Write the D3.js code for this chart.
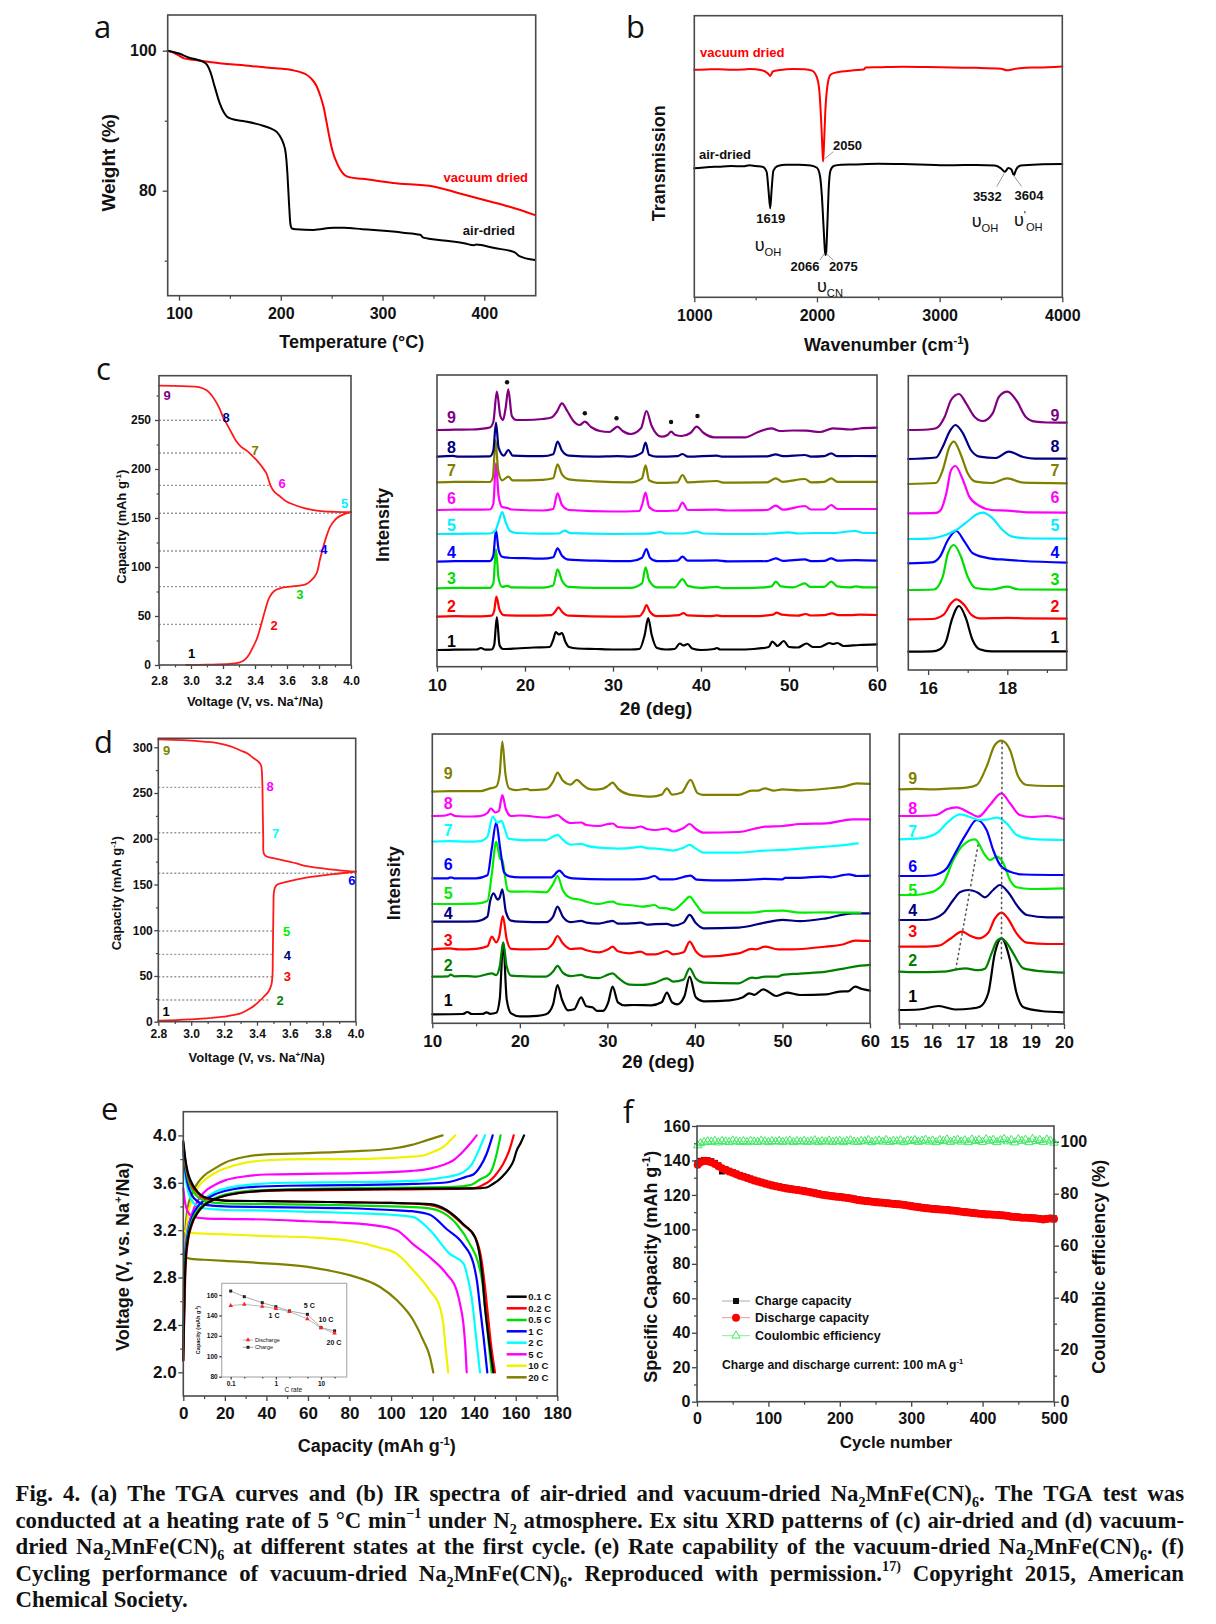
<!DOCTYPE html>
<html><head><meta charset="utf-8">
<script src="https://cdn.jsdelivr.net/npm/d3@7"></script>
<style>body{margin:0;background:#fff}</style>
</head><body>
<script>
// ================= DATA =================
// (a) TGA: [temperature °C, weight %]
const tgaVacuum = [[88.9,100],[95,99.7],[100,99.3],[105,98.9],[114,98.7],[130,98.4],[147,98.1],[165,97.9],[179,97.7],[195,97.5],[212,97.2],[220,96.9],[225,96.6],[230,96.0],[235,95.0],[239,93.5],[242,92.0],[245,89.8],[248,87.5],[251,85.6],[255,84.0],[258.5,83.0],[263,82.2],[268,81.9],[280,81.7],[310,81.1],[350,80.6],[376,79.6],[399,78.7],[425,77.7],[450,76.5]];
const tgaAir = [[88.9,100],[100,99.6],[110,99.0],[118,98.7],[124,98.4],[128,97.9],[131,96.9],[135,94.9],[140,92.5],[144,91.2],[147,90.6],[153,90.2],[165,89.9],[180,89.4],[190,88.9],[196,88.4],[200,87.6],[202.5,86.8],[205,85.2],[206.5,82.5],[208,78.5],[209.5,75.2],[211,74.6],[215,74.5],[232,74.4],[252,74.7],[262,74.7],[280,74.5],[298,74.3],[320,74.0],[337,73.7],[340,73.3],[360,72.9],[380,72.5],[390,72.2],[392,72.3],[410,71.8],[430,71.2],[434,70.7],[450,70.1]];

// (b) IR: [wavenumber cm-1, transmission a.u.]
const irVacuum = [[1000,80.8],[1100,80.9],[1200,81.0],[1300,80.8],[1400,80.9],[1450,81.1],[1550,80.6],[1600,79.5],[1619,78.6],[1640,80.2],[1700,80.7],[1800,81.1],[1900,81.0],[1960,80.5],[2000,78.0],[2020,73.0],[2035,62.0],[2045,52.0],[2050,48.2],[2058,55.0],[2068,66.0],[2085,75.0],[2110,79.0],[2150,79.8],[2200,80.2],[2300,80.6],[2380,80.9],[2400,81.6],[2500,81.7],[2700,81.9],[2900,81.8],[3100,81.6],[3300,81.5],[3500,81.2],[3550,80.6],[3600,81.0],[3650,81.3],[3700,81.5],[3800,81.6],[4000,82.0]];
const irAir = [[1000,45.8],[1100,46.2],[1200,46.4],[1300,46.6],[1400,46.5],[1450,46.9],[1500,46.6],[1560,46.3],[1590,44.5],[1605,38.0],[1619,31.6],[1630,38.0],[1645,45.0],[1680,46.6],[1750,47.1],[1850,47.1],[1950,46.8],[2000,46.0],[2025,43.0],[2040,36.0],[2055,24.0],[2066,16.0],[2070,15.0],[2075,16.0],[2085,26.0],[2095,38.0],[2110,45.0],[2140,46.7],[2200,47.1],[2300,47.2],[2500,47.4],[2700,47.3],[2900,47.1],[3100,46.9],[3300,47.0],[3450,46.8],[3500,45.8],[3532,44.6],[3560,45.9],[3585,45.4],[3604,43.4],[3625,45.5],[3660,46.8],[3800,47.2],[4000,47.3]];

// (c) air-dried first cycle: [voltage V, capacity mAh/g]
const cCharge = [[2.97,0],[3.1,0.3],[3.24,1],[3.3,2.5],[3.33,4.5],[3.36,10],[3.38,16],[3.41,26],[3.44,42],[3.465,57],[3.49,69],[3.52,75.5],[3.56,78.5],[3.62,80],[3.68,81],[3.72,82.5],[3.75,86],[3.785,93.5],[3.805,107],[3.827,120.7],[3.85,133],[3.869,141],[3.89,146],[3.91,149.7],[3.95,153.5],[4.0,156]];
const cDischarge = [[4.0,156],[3.9,156.3],[3.83,156.8],[3.75,158.5],[3.66,162.5],[3.6,166.5],[3.56,171.5],[3.52,177],[3.5,182],[3.485,189],[3.47,196],[3.44,203],[3.41,209],[3.38,214],[3.35,218.5],[3.31,223],[3.28,229],[3.26,235],[3.24,241],[3.22,247],[3.2,253],[3.18,261],[3.16,267.5],[3.13,275],[3.1,280],[3.05,283.5],[2.95,284.5],[2.8,285]];
const cStates = [[3.45,41.5],[3.66,80],[3.81,116.3],[4.0,154.8],[3.49,183.3],[3.33,216.3],[3.19,249.7]];
const stateNames = ['1','2','3','4','5','6','7','8','9'];

// (c) XRD traces, 2θ vs intensity above each pattern's own baseline; stacking offsets (a.u.)
const xrdCOffsets = [16.7,50,78.3,105,132.7,156.7,184.4,210,236.7];
const xrdC = [
 [[10,0],[12,0.3],[14.5,0.5],[15,2],[15.5,0.3],[16.2,0.5],[16.5,5],[16.8,33],[17.1,5],[17.5,1],[19,1.5],[21,2.5],[22.8,3],[23.2,10],[23.5,18],[23.85,15.5],[24.2,17],[24.6,8],[25,3],[26,1.5],[28,1],[30,0.5],[32,0.5],[33,1],[33.6,15],[34,32],[34.4,15],[35,2],[36,0.5],[37,1],[37.6,6.5],[38,4.5],[38.5,6],[39,1.5],[40,0],[41.5,1],[41.8,2],[42.2,0.5],[44,0.5],[46,1],[47.7,3],[48.1,8.5],[48.7,4],[49.4,9],[50,3],[51,2.5],[52,6.5],[52.7,3],[53.5,3],[54.6,7],[55,6],[55.5,7],[56.2,4],[58,5],[60,5.7]],
 [[10,0],[12,0.5],[15,0.3],[16.2,1],[16.5,6],[16.75,20],[17.1,7],[17.6,1.5],[20,1],[23,1.5],[23.5,6],[23.8,9.3],[24.2,5],[25,1],[30,0],[33,0.5],[33.5,6],[33.8,11.7],[34.2,5],[35,0.5],[37.5,1.5],[38,3.5],[38.5,1.3],[41,0.5],[41.8,1.3],[42.5,0.5],[46,0.5],[48.2,2],[48.6,4],[49.2,2],[51,1],[51.9,2.7],[52.5,1.2],[54,1.5],[54.9,3.3],[55.6,1.5],[57,1.5],[58,2],[60,1.7]],
 [[10,0],[12,0.5],[16,0.5],[16.4,5],[16.7,39],[17.0,10],[17.4,1.5],[18.0,2.5],[18.5,1],[22,0.8],[23.2,3],[23.7,19],[24.2,8],[25,1.5],[28,0.5],[32,0.5],[33.3,5],[33.7,21],[34.1,8],[35,1],[37,1],[37.9,9.3],[38.5,2.5],[40,0.5],[41.8,1.5],[42.5,0.3],[46,0.5],[48,2],[48.5,6.7],[49.1,2],[50.5,1],[51.8,5],[52.4,1.5],[54,1.5],[54.8,6.7],[55.5,2],[57,1],[57.6,2],[58.5,1],[60,1]],
 [[10,0],[12,0.5],[16,0.5],[16.4,6],[16.7,31.7],[17.0,12],[17.4,5],[18,4],[20,3.5],[22,3],[23.2,4.5],[23.7,13.3],[24.2,6],[25,2],[28,1],[32,0.5],[33.3,4],[33.8,12.7],[34.2,4],[35,0.5],[37.3,1],[37.9,5],[38.5,1],[41.8,1.3],[43,0.3],[47.5,0.5],[48.5,3.3],[49.3,0.8],[51.8,2.3],[52.5,0.5],[54,0.8],[54.8,3.3],[55.5,1],[57.6,1.5],[60,1]],
 [[10,0],[14,0.3],[16,0.5],[16.6,3],[17.0,12],[17.4,22],[17.8,12],[18.3,3],[19,1],[22,0.3],[23.8,0.5],[24.5,3.3],[25.2,0.8],[30,0],[34,0.3],[35.4,2],[36,0.5],[38,0.5],[39.5,2.5],[40.3,0.5],[45,0],[48,0.5],[50,1.7],[51,0.5],[53,1],[55,1],[57.5,3],[58.5,1],[60,1]],
 [[10,0],[12,0.3],[16,0.5],[16.4,6],[16.7,46.7],[17.0,14],[17.4,3],[18.0,2],[18.5,0.5],[22,-0.5],[23.2,1],[23.7,16.7],[24.2,5],[25,0],[30,-1.5],[33,-1],[33.3,5],[33.7,17.3],[34.1,3],[35,-1],[37.3,-0.5],[37.9,7.3],[38.5,0],[41.8,0.3],[43,-0.5],[47.5,0],[48.5,4.3],[49.3,0.3],[51.8,4],[52.5,0.5],[54,0.5],[54.8,5],[55.5,1],[57.6,1],[60,1]],
 [[10,0],[12,0.5],[16,0.3],[16.35,5],[16.65,42],[16.95,12],[17.4,2],[18.1,5.7],[18.6,2],[22,2.5],[23.2,4],[23.7,18],[24.2,8],[25,3],[28,1],[32,0],[33.3,4],[33.7,17],[34.1,2],[35,-0.5],[37.3,0],[37.9,7.3],[38.5,0],[41.8,1.3],[42.5,-0.3],[47.5,0],[48.5,4],[49.3,0.5],[51.8,3.3],[52.5,0],[54,0.5],[54.8,4],[55.5,0.5],[57.6,0.5],[60,0.5]],
 [[10,0],[11.8,0.8],[12.5,0],[16,0.3],[16.4,6],[16.7,34],[17.0,9],[17.6,1],[18.1,6.7],[18.6,1],[22,0.5],[23.2,2.5],[23.7,15],[24.2,6],[25,1],[28,0],[30.5,0.5],[32,0],[33.3,4],[33.7,14],[34.1,2],[35,0],[37.3,0.5],[37.9,2.7],[38.5,0],[41.8,1],[42.5,0],[47.5,0.3],[48.5,2.3],[49.3,0.5],[51.8,1.7],[52.5,0],[54,0.5],[54.8,3.3],[55.5,0.5],[57.6,0.7],[60,0.5]],
 [[10,0],[12,0.3],[14,0.5],[15,1.2],[16,2.5],[16.4,8],[16.8,38.3],[17.2,14],[17.5,10],[17.8,22],[18.1,40.7],[18.5,14],[19,10],[20,10],[22,11],[23,12.5],[23.6,18],[24.2,26.7],[24.8,19],[25.5,9],[26.2,5],[26.8,8.3],[27.5,3],[28.5,-1],[29.6,-2],[30.1,1],[30.5,3.3],[31.1,-1],[32,-4],[33.2,2],[33.8,19],[34.4,4],[35.5,-6.7],[36.2,-5],[36.6,-1.7],[37.1,-5],[37.8,-6],[38.8,-3],[39.5,3.3],[40.3,-3],[41.5,-7.3],[45,-7.3],[46.5,-2],[48,1.7],[49,-1],[50.5,-0.5],[52,-0.7],[53.5,-2],[55,1.7],[57,0.5],[58,1.5],[60,2.3]]
];
const xrdCStars = [[17.96,284.4],[26.8,253.4],[30.4,248.4],[36.6,244.7],[39.6,250.7]];

// (c) zoom 15.5-19.5 deg
const xrdCZOffsets = [18.3,50.7,80,106.7,131,156.7,186,211,240];
const xrdCZ = [
 [[15.5,0],[16.1,0.3],[16.3,2.5],[16.45,10],[16.6,32],[16.78,45.7],[16.95,34],[17.12,12],[17.3,2.5],[17.6,0.3],[19.5,0.3]],
 [[15.5,0],[16.1,0.3],[16.4,5],[16.58,16],[16.71,20],[16.92,14],[17.08,5],[17.3,1],[18,1.5],[18.5,1],[19.5,0.7]],
 [[15.5,0],[16.15,0.5],[16.37,13.3],[16.5,36.7],[16.65,45],[16.83,33.3],[17.0,13.3],[17.2,2],[17.6,0.5],[18.0,3.3],[18.3,0.5],[19.5,0.3]],
 [[15.5,0],[16.1,1],[16.3,6.7],[16.5,23.3],[16.71,32.3],[16.92,21.7],[17.13,10],[17.54,5],[18.0,3.5],[18.4,2.3],[19.5,0.7]],
 [[15.5,0],[16.0,0.3],[16.3,2.3],[16.71,9],[17.04,19],[17.22,24.5],[17.38,26.3],[17.63,20.7],[17.88,9],[18.13,2.3],[18.6,0.5],[19.5,0.3]],
 [[15.5,0],[16.2,0.5],[16.33,4],[16.46,20],[16.58,43.3],[16.69,47.3],[16.88,33.3],[17.04,16.7],[17.3,7.3],[17.6,3.3],[18.0,2.7],[18.5,1],[19.5,0.7]],
 [[15.5,0],[16.2,1],[16.37,14],[16.54,37.3],[16.65,42.3],[16.83,29],[17.0,10.7],[17.2,2.3],[17.6,1],[18.0,5.7],[18.4,1.3],[19.5,0.7]],
 [[15.5,0],[16.2,1.5],[16.37,12.3],[16.54,27.3],[16.69,34],[16.88,25.7],[17.08,9],[17.3,2.3],[17.7,1],[18.04,7.3],[18.4,2],[18.7,0.3],[19.5,0.3]],
 [[15.5,0],[16.0,0.5],[16.2,1.7],[16.42,13.3],[16.58,30],[16.78,36],[16.96,26.7],[17.17,13.3],[17.38,9],[17.63,16.7],[17.79,33.3],[18.0,38.3],[18.25,28.3],[18.46,13.3],[18.71,8.3],[19.0,7.5],[19.5,7.3]]
];

// (d) vacuum-dried first cycle: [voltage V, capacity mAh/g]
const dCharge = [[2.8,1.1],[2.99,2.5],[3.2,5.5],[3.3,9],[3.36,14.6],[3.4,20],[3.44,27],[3.47,33],[3.487,40],[3.494,50],[3.496,70],[3.498,100],[3.5,125],[3.502,140],[3.508,146],[3.52,149.5],[3.56,152],[3.63,155],[3.7,157.5],[3.8,160],[3.9,162],[4.0,164]];
const dDischarge = [[4.0,164],[3.9,165.5],[3.8,167.6],[3.7,170],[3.64,173],[3.58,175.5],[3.52,178],[3.47,180],[3.45,181.5],[3.44,185],[3.438,200],[3.435,230],[3.433,257],[3.43,272],[3.425,280],[3.41,284],[3.38,288],[3.34,293.4],[3.3,296.5],[3.24,301],[3.16,304.5],[3.09,306],[2.95,307.8],[2.8,308.7]];
const dStates = [[3.48,23.7],[3.496,49.2],[3.497,73.6],[3.498,99.1],[4.0,162.2],[3.437,206.6],[3.433,256.2]];

const xrdDOffsets = [9,46.7,74,101.7,119.3,145,181.7,207.3,231.7];
const xrdD = [
 [[10,0],[13.5,0.3],[14,2.3],[14.5,0.3],[15.8,0.5],[16.2,2],[16.6,0.5],[17.3,1.5],[17.7,15],[18.1,71.7],[18.5,15],[19,1],[20,-2],[22,-1.5],[23,0],[23.8,10],[24.3,29.3],[24.8,15],[25.5,4],[26.2,5],[27,17],[27.6,8],[28.3,7],[28.8,3.5],[29.5,3.5],[30.1,12],[30.6,27.7],[31.2,12],[32,9],[33,9.3],[35,9],[36.2,12],[36.8,21.7],[37.4,12],[38,10],[38.8,18],[39.4,37.7],[40.1,17],[41,13],[44,14],[45.5,17],[46.2,21],[46.8,19.5],[47.8,25],[49.3,18.3],[50.5,21.7],[52,19.3],[55,20],[56.5,22.7],[57.5,23],[58.3,27.7],[59,25.5],[60,23.7]],
 [[10,0],[11.8,0.3],[12.1,2],[12.5,0.3],[14,0.5],[15,0],[16.8,3.3],[17.3,1.5],[17.7,10],[18.1,34],[18.5,10],[19,1],[20,0.5],[23,0],[23.8,5],[24.3,10.7],[24.9,4],[25.8,0.5],[27,1.7],[27.6,-0.3],[29,-1.5],[30.1,2],[30.6,3.3],[31.2,-1],[32.5,-8],[34,-8.3],[35.5,-6],[36.8,-1.7],[37.5,-5],[38.7,-3],[39.4,8.3],[40.1,-2],[41,-6],[45,-6.7],[46.5,-1],[47,-1.5],[48,0],[49.5,0],[50,1.7],[52,3],[55,5],[57,8],[58.2,10],[60,11.7]],
 [[10,0],[12,1],[13,0],[15,0.5],[16.3,3],[16.8,12.7],[17.3,7],[17.65,13],[18.05,33.3],[18.5,10],[19,0.5],[21,0],[23,0.3],[23.8,6],[24.3,13.3],[24.9,6],[25.8,0.3],[27,1],[27.6,-1],[29,-3],[30.1,0],[30.6,2.7],[31.2,-2],[32.5,-4],[33.8,-2.3],[34.5,-5],[35.5,-5],[36.8,-1.7],[37.5,-5],[38.7,-3],[39.4,7.7],[40.1,-2],[41,-7.3],[45,-4],[46.5,0.5],[47,0],[48,2.7],[49.5,0],[51,0],[55,2.7],[57,5],[58.3,8.7],[60,8.3]],
 [[10,0],[13,0],[15,0.3],[16.3,5],[16.6,20],[17.0,28.3],[17.45,22],[17.7,24],[18.0,32.3],[18.4,10],[19,1],[20,0],[23,-0.5],[23.8,5],[24.3,15],[24.9,5],[25.8,-0.5],[27,0.7],[27.6,-1],[29,-2],[30.1,0],[30.6,0.7],[31.2,-2],[33.2,-1.5],[33.8,-1],[34.5,-3],[35.5,-2.5],[36.8,-2.3],[37.5,-4],[38.7,-1],[39.4,6.7],[40.1,-1.5],[41,-6.7],[45,-6],[48,-1],[50,1.7],[52,0.5],[55,3.3],[58,8.3],[60,8.3]],
 [[10,0],[13,0],[15,0.3],[16.3,3],[16.8,30],[17.3,62.3],[17.75,45],[18.0,44],[18.3,28],[18.6,14],[19,12.3],[21,12.5],[23,11.7],[23.8,20],[24.3,28],[24.9,14],[25.8,6],[27,4],[27.6,2.3],[29,0],[30.1,2],[30.6,2.3],[31.2,0],[33,-1.5],[34,-2.7],[35.4,-1],[36,-4],[36.8,-4.3],[37.5,-6],[38.7,2],[39.4,7.3],[40.1,0],[41,-8.7],[45,-8.7],[47,-8.3],[48,-7],[50,-6.7],[52,-8.7],[55,-8.3],[58.9,-8.7]],
 [[10,0],[11.8,0],[12.1,1],[12.5,0],[15,0],[16.3,3],[16.8,30],[17.3,55.7],[17.75,30],[18.2,6],[18.8,2],[20,1],[23.6,1],[24.5,7.7],[25.2,2],[26,0],[30,-1],[33,-1],[34.5,0],[35.4,2.3],[36,-1],[37.5,-1],[39.5,2.7],[40.2,-1.3],[42,-2],[46,-1.5],[48,-0.5],[50,-1],[50.3,0.5],[52,0.5],[54.5,1.7],[55.5,1],[57.6,4],[58.5,2.3],[60,2.7]],
 [[10,0],[12,0.5],[14,0],[15.5,0.5],[16.3,5],[16.9,25],[17.4,19],[17.9,20.7],[18.3,12],[18.7,3],[19.5,2],[21,1.5],[23,1.5],[23.8,5],[24.3,6.7],[24.9,2],[25.8,-3],[27,-2.3],[27.6,-4],[29,-6],[30.6,-6.7],[31.2,-7],[33,-6],[33.8,-5],[34.5,-6.5],[35.5,-7],[36.8,-8.3],[37.5,-9],[38.7,-6],[39.4,-3.3],[40.1,-7],[41,-11],[45,-11],[48,-9],[50,-8.3],[52,-7],[55,-5],[57,-3.5],[58.6,-1.7]],
 [[10,0],[11.5,0.5],[12.1,2],[12.6,0],[14.5,-0.5],[15.5,0],[16.3,3],[16.7,7.7],[17.2,3.5],[17.6,5],[18.0,21],[18.4,7],[19,0],[20,0.5],[23,-1.5],[23.8,0],[24.3,1],[24.9,-3],[25.8,-7],[27,-6.5],[27.6,-9],[29,-10],[30.1,-8],[30.6,-7.5],[31.2,-11],[33,-12],[33.8,-10.5],[34.5,-13],[35.5,-14],[36.8,-12.5],[37.5,-15.5],[38.7,-12],[39.4,-8],[40.1,-13],[41,-16.7],[45,-16],[48,-10.7],[50,-10],[52,-8],[55,-7.3],[58,-3.3],[60,-3.3]],
 [[10,0],[12,0.5],[14,0.5],[15.5,0.5],[16.5,3],[17.3,5],[17.7,18],[18.0,50],[18.35,18],[18.8,3],[19.5,1.5],[20.8,2.7],[21.2,1.5],[23,2.5],[23.8,10],[24.3,19],[24.9,11],[25.8,7],[26.5,11.7],[27.2,6.7],[27.8,3],[28.5,2],[29.5,3],[30.1,6],[30.6,9],[31.2,3],[32.5,-3],[33.8,-4.3],[35,-5],[36.2,-3],[36.8,3.3],[37.4,-3],[38.5,-1],[39.5,11.7],[40.3,-1.5],[41,-3.3],[45,-3.3],[46.5,1],[47.2,1],[48,3.3],[49,1],[50,2.3],[52,1.3],[55,3],[57,5],[58.5,8.3],[60,7.7]]
];

const xrdDZOffsets = [14,52.3,77.3,104,129,148,184.7,208,234.7];
const xrdDZ = [
 [[15,0],[15.6,0.5],[16.2,4],[16.7,0.5],[17.2,1.5],[17.45,3.3],[17.7,16.7],[17.9,56.7],[18.1,71.7],[18.36,50],[18.56,16.7],[18.77,2.7],[19.3,-1],[20,-2.3]],
 [[15,0],[15.5,-0.5],[16.3,0],[17.0,3.3],[17.4,1.5],[17.6,3],[17.8,18.3],[17.95,30],[18.1,33.3],[18.3,27],[18.46,18.3],[18.77,3.3],[19.3,0.5],[20,-1]],
 [[15,0],[15.8,0],[16.2,1],[16.55,8],[16.9,15],[17.15,11],[17.4,8.3],[17.7,14],[17.9,28],[18.1,34],[18.3,28],[18.56,13.3],[18.87,4],[19.5,2.7],[20,2.7]],
 [[15,0],[15.8,0],[16.1,2],[16.34,6.7],[16.64,20],[16.85,28],[17.1,30],[17.4,27],[17.6,22.7],[17.85,30],[18.05,35],[18.3,28],[18.6,13.3],[18.87,5],[19.5,2.7],[20,2.7]],
 [[15,0],[15.5,0],[15.83,1.7],[16.1,4.5],[16.34,11.7],[16.64,35],[16.94,50],[17.3,55.7],[17.6,40],[17.75,35],[17.96,38.3],[18.16,31.7],[18.36,15],[18.56,7.7],[19,6],[20,6.7]],
 [[15,0],[15.5,0],[16.0,0.5],[16.23,2.7],[16.45,8],[16.64,19.3],[16.85,32],[17.04,42.7],[17.35,56],[17.65,46],[17.85,26],[18.06,11],[18.36,4.3],[18.8,1.5],[20,1]],
 [[15,0],[15.63,1],[16.13,6],[16.49,17.7],[16.84,25],[17.25,21],[17.45,19.3],[17.7,20],[17.96,21.7],[18.26,16],[18.56,4.3],[19,0.5],[20,-0.7]],
 [[15,0],[15.6,0],[16.13,1],[16.44,6.7],[16.74,8.7],[17.15,2.7],[17.4,-0.7],[17.75,11],[18.1,22.7],[18.36,12.7],[18.66,1],[19.0,-1],[19.47,0],[20,-3]],
 [[15,0],[15.5,0.5],[16.0,0],[16.5,0.7],[17.04,1.7],[17.35,4.3],[17.65,22.7],[17.9,44.3],[18.1,48.7],[18.36,39.3],[18.61,12.7],[18.87,4.3],[19.5,3.3],[20,3.3]]
];
const dGuides = [[[18.12,282.3],[18.1,64]],[[16.71,54],[17.4,180.7]]];

// (e) rate capability: [capacity mAh/g, voltage V]
const eRates = ['0.1 C','0.2 C','0.5 C','1 C','2 C','5 C','10 C','20 C'];
const eCharge = [
 [[0,2.1],[0.5,2.6],[1,2.9],[2,3.1],[4,3.25],[7,3.35],[10,3.41],[15,3.46],[20,3.49],[30,3.52],[50,3.54],[80,3.545],[110,3.55],[140,3.552],[146,3.56],[149,3.59],[151.6,3.62],[155,3.68],[157.2,3.73],[159,3.79],[160.4,3.87],[162.5,3.94],[164,4.0]],
 [[0,2.1],[0.5,2.5],[1,2.85],[2,3.08],[4,3.24],[7,3.35],[10,3.41],[15,3.46],[20,3.49],[30,3.52],[50,3.535],[80,3.54],[110,3.545],[135,3.55],[140,3.555],[144,3.58],[147,3.61],[150,3.66],[154,3.76],[157,3.88],[159,4.0]],
 [[0,2.2],[0.5,2.65],[1,2.95],[2,3.12],[4,3.27],[7,3.37],[10,3.42],[15,3.47],[20,3.5],[30,3.53],[50,3.545],[80,3.555],[110,3.56],[130,3.565],[138,3.58],[143,3.63],[147.6,3.68],[150.9,3.85],[152.7,4.0]],
 [[0,2.2],[0.5,2.7],[1,3.0],[2,3.15],[4,3.3],[7,3.4],[10,3.45],[15,3.5],[20,3.53],[30,3.56],[50,3.575],[80,3.58],[110,3.59],[125,3.6],[130,3.615],[136,3.65],[139.6,3.67],[143,3.74],[146,3.845],[148.9,4.0]],
 [[0,2.25],[0.5,2.7],[1,3.0],[2,3.18],[4,3.3],[7,3.4],[10,3.46],[15,3.52],[20,3.55],[30,3.58],[50,3.6],[80,3.605],[100,3.61],[115,3.62],[123.5,3.64],[130,3.66],[134.8,3.69],[139,3.76],[142.8,3.9],[145.2,4.0]],
 [[0,2.3],[0.5,2.8],[1,3.05],[2,3.2],[4,3.33],[7,3.45],[10,3.52],[15,3.58],[20,3.62],[30,3.655],[40,3.67],[60,3.675],[80,3.68],[100,3.69],[110,3.7],[118.7,3.72],[125,3.75],[130,3.79],[135,3.87],[138.5,3.94],[141.2,4.0]],
 [[0,2.4],[0.5,2.9],[1,3.1],[2,3.3],[4,3.45],[7,3.56],[10,3.62],[15,3.68],[20,3.72],[30,3.77],[40,3.79],[60,3.8],[80,3.8],[100,3.81],[110,3.82],[115.5,3.83],[120,3.86],[125,3.9],[128,3.95],[130.8,4.0]],
 [[0,2.5],[0.5,3.0],[1,3.2],[2,3.38],[4,3.5],[7,3.6],[10,3.66],[15,3.72],[20,3.77],[30,3.82],[40,3.84],[60,3.85],[80,3.865],[100,3.887],[110,3.92],[117,3.958],[124.8,4.0]]
];
const eDischarge = [
 [[0,3.95],[1,3.8],[2,3.7],[4,3.6],[7,3.52],[10,3.48],[15,3.46],[20,3.45],[40,3.445],[60,3.44],[80,3.435],[100,3.43],[110,3.425],[118.7,3.42],[126.7,3.37],[134.8,3.25],[140.4,3.14],[142.8,2.97],[144,2.8],[145.2,2.55],[146.5,2.35],[148,2.15],[149.2,2.0]],
 [[0,3.93],[1,3.78],[2,3.68],[4,3.58],[7,3.51],[10,3.47],[15,3.455],[20,3.45],[40,3.445],[60,3.44],[80,3.435],[100,3.43],[110,3.425],[119,3.41],[127,3.36],[135,3.24],[140.5,3.14],[143.5,2.95],[145,2.75],[146.5,2.5],[148,2.25],[150,2.0]],
 [[0,3.92],[1,3.75],[2,3.65],[4,3.55],[7,3.48],[10,3.45],[15,3.43],[20,3.425],[40,3.42],[60,3.415],[80,3.41],[100,3.4],[115,3.39],[123.5,3.36],[131.6,3.25],[138,3.08],[142,2.92],[144,2.75],[145.2,2.55],[146.7,2.3],[148.4,2.0]],
 [[0,3.88],[1,3.7],[2,3.6],[4,3.5],[7,3.44],[10,3.415],[15,3.405],[20,3.4],[40,3.395],[60,3.39],[80,3.385],[100,3.37],[110,3.36],[118.7,3.33],[126.7,3.21],[134.8,3.08],[139.6,2.92],[141.5,2.75],[142.8,2.55],[144.5,2.3],[146.3,2.0]],
 [[0,3.85],[1,3.65],[2,3.55],[4,3.45],[7,3.4],[10,3.385],[15,3.375],[20,3.37],[40,3.365],[60,3.355],[80,3.345],[100,3.33],[110.7,3.31],[118.7,3.2],[128.3,3.0],[134.8,2.92],[137.5,2.75],[138.8,2.63],[140,2.45],[141.5,2.2],[142.8,2.0]],
 [[0,3.55],[1,3.42],[2,3.36],[4,3.32],[7,3.305],[10,3.3],[20,3.295],[40,3.29],[60,3.275],[80,3.26],[90,3.245],[102.7,3.2],[110.7,3.08],[118.7,2.97],[126.7,2.83],[131.6,2.69],[133.5,2.55],[134.8,2.41],[135.8,2.2],[136.4,2.0]],
 [[0,3.2],[2,3.18],[5,3.175],[10,3.17],[20,3.165],[40,3.15],[60,3.14],[80,3.11],[95,3.05],[102.7,3.0],[110.7,2.86],[118.7,2.69],[123.5,2.55],[125.2,2.4],[125.9,2.27],[126.7,2.13],[127.5,2.0]],
 [[0,3.0],[2,2.965],[5,2.955],[10,2.95],[20,2.94],[40,2.92],[60,2.89],[70,2.86],[80,2.82],[94.7,2.72],[102.7,2.61],[110.7,2.44],[115.5,2.27],[118.7,2.13],[120.3,2.0]]
];
const insetRates = [0.1,0.2,0.5,1,2,5,10,20];
const insetCharge = [163.9,158.4,152.5,148.6,144.4,141.1,128.1,124.9];
const insetDischarge = [149.6,150.9,148.9,146.7,143.7,136.6,127.8,122.6];

// (f) cycling
const fCycles = [1,5,10,15,20,25,30,35,40,45,50,55,60,65,70,75,80,85,90,95,100,105,110,115,120,125,130,135,140,145,150,155,160,165,170,175,180,185,190,195,200,205,210,215,220,225,230,235,240,245,250,255,260,265,270,275,280,285,290,295,300,305,310,315,320,325,330,335,340,345,350,355,360,365,370,375,380,385,390,395,400,405,410,415,420,425,430,435,440,445,450,455,460,465,470,475,480,485,490,495,500];
const fDischarge = [137.5,139.0,139.7,139.5,139.0,138.0,136.6,135.5,134.5,133.6,132.8,132.0,131.2,130.5,129.8,129.1,128.4,127.8,127.2,126.6,126.0,125.5,125.0,124.6,124.2,123.8,123.4,123.1,122.8,122.5,122.2,121.8,121.4,121.0,120.5,120.1,119.8,119.5,119.2,119.0,118.8,118.5,118.2,117.9,117.5,117.1,116.8,116.5,116.3,116.0,115.8,115.6,115.4,115.2,115.0,114.8,114.6,114.4,114.1,113.8,113.5,113.2,112.9,112.6,112.3,112.1,111.9,111.7,111.5,111.4,111.2,111.0,110.8,110.5,110.2,110.0,109.8,109.5,109.3,109.1,108.9,108.7,108.6,108.5,108.4,108.2,108.0,107.7,107.4,107.2,107.0,106.8,106.7,106.6,106.5,106.3,106.0,105.8,106.0,106.3,106.0];
const fCharge = [138.3,139.8,140.3,140.1,139.6,138.6,137.2,133.6,134.9,134.0,133.2,132.4,131.6,130.9,130.2,129.5,128.8,128.2,127.6,127.0,126.4,125.9,125.4,125.0,124.6,124.2,123.8,123.5,123.2,122.9,122.6,122.2,121.8,121.4,120.9,120.5,120.2,119.9,119.6,119.4,119.2,118.9,118.6,118.3,117.9,117.5,117.2,116.9,116.7,116.4,116.2,116.0,115.8,115.6,115.4,115.2,115.0,114.8,114.5,114.2,113.9,113.6,113.3,113.0,112.7,112.5,112.3,112.1,111.9,111.8,111.6,111.4,111.2,110.9,110.6,110.4,110.2,109.9,109.7,109.5,109.3,109.1,109.0,108.9,108.8,108.6,108.4,108.1,107.8,107.6,107.4,107.2,107.1,107.0,106.9,106.7,106.4,106.2,106.4,106.7,106.4];
const fCE = [98.6,99.4,99.8,100.1,99.9,100.3,99.7,100.2,100.0,99.8,100.4,100.1,99.9,100.2,99.8,100.3,100.0,99.9,100.4,100.1,99.8,100.2,100.0,100.3,99.9,100.1,100.4,99.8,100.2,100.0,100.3,99.9,100.1,100.5,99.8,100.2,100.0,100.4,99.9,100.1,100.3,99.8,100.2,100.5,100.0,99.9,100.3,100.1,100.6,99.8,100.2,100.4,100.0,100.6,99.9,100.3,100.1,100.5,99.8,100.4,100.2,100.6,99.9,100.3,100.7,100.0,100.4,99.8,100.6,100.2,100.8,99.9,100.4,100.7,100.0,100.5,99.8,100.8,100.2,100.6,99.9,100.9,100.3,100.7,99.8,100.5,101.0,100.1,100.6,99.7,100.9,100.3,100.7,99.8,101.0,100.2,100.6,99.9,100.8,100.4,99.6];

const cColors = ['#000000','#ff0000','#00dd00','#0000ff','#00eeff','#ff00ff','#808000','#000080','#800080'];
const dColors = ['#000000','#008000','#ff0000','#000080','#00ee00','#0000ff','#00ffff','#ff00ff','#808000'];
const eColors = ['#000000','#ff0000','#00dd00','#0000ff','#00ffff','#ff00ff','#f2f200','#808000'];

const captionLines = [
 "Fig. 4. (a) The TGA curves and (b) IR spectra of air-dried and vacuum-dried Na_{2}MnFe(CN)_{6}. The TGA test was",
 "conducted at a heating rate of 5 °C min^{−1} under N_{2} atmosphere. Ex situ XRD patterns of (c) air-dried and (d) vacuum-",
 "dried Na_{2}MnFe(CN)_{6} at different states at the first cycle. (e) Rate capability of the vacuum-dried Na_{2}MnFe(CN)_{6}. (f)",
 "Cycling performance of vacuum-dried Na_{2}MnFe(CN)_{6}. Reproduced with permission.^{17)} Copyright 2015, American",
 "Chemical Society."
];

// ================= DRAWING =================
const FONT = "'Liberation Sans', Arial, Helvetica, sans-serif";
const LETTER_FONT = "'Open Sans', 'DejaVu Sans', sans-serif";
const svg = d3.select('body').append('svg').attr('width',1216).attr('height',1624);
svg.append('rect').attr('width',1216).attr('height',1624).attr('fill','#fff');

function rich(t, str, fs) {
  const parts = str.split(/(\^\{[^}]*\}|_\{[^}]*\})/).filter(s => s.length);
  let off = 0;
  parts.forEach(p => {
    let txt = p, target = 0, size = fs;
    if (p.startsWith('^{')) { txt = p.slice(2,-1); target = -0.4*fs; size = 0.62*fs; }
    else if (p.startsWith('_{')) { txt = p.slice(2,-1); target = 0.28*fs; size = 0.62*fs; }
    t.append('tspan').attr('dy', target - off).attr('font-size', size).text(txt);
    off = target;
  });
  return t;
}
function label(g, x, y, str, fs, o = {}) {
  const t = g.append('text').attr('x', x).attr('y', y + 0.35*fs)
    .attr('font-family', o.family || FONT).attr('font-weight', o.weight || 'bold')
    .attr('font-size', fs).attr('fill', o.fill || '#111').attr('text-anchor', o.anchor || 'middle');
  return rich(t, str, fs);
}
function vlabel(g, cx, cy, str, fs, o = {}) {
  const t = g.append('text').attr('transform', `translate(${cx + 0.35*fs},${cy}) rotate(-90)`)
    .attr('font-family', FONT).attr('font-weight', 'bold').attr('font-size', fs)
    .attr('fill', o.fill || '#111').attr('text-anchor', 'middle');
  return rich(t, str, fs);
}
function letter(ch, x, y) {
  svg.append('text').attr('x', x).attr('y', y).attr('font-family', LETTER_FONT)
    .attr('font-size', 31).attr('fill', '#111').text(ch);
}
function frame(g, P, stroke = '#4a4a4a', sw = 1.6, fill = 'none') {
  g.append('rect').attr('x', P.x0).attr('y', P.y0).attr('width', P.x1 - P.x0).attr('height', P.y1 - P.y0)
    .attr('fill', fill).attr('stroke', stroke).attr('stroke-width', sw);
}
function drawAxis(g, scale, orient, pos, major, minor, fmt, fs, pad, tl = 5) {
  const gen = orient === 'bottom' ? d3.axisBottom : orient === 'left' ? d3.axisLeft : d3.axisRight;
  const tr = orient === 'bottom' ? `translate(0,${pos})` : `translate(${pos},0)`;
  if (minor && minor.length) {
    const m = g.append('g').attr('transform', tr).call(gen(scale).tickValues(minor).tickFormat('').tickSize(tl*0.6).tickSizeOuter(0));
    m.select('.domain').remove();
    m.selectAll('line').attr('stroke', '#444').attr('stroke-width', 1.2);
  }
  const a = g.append('g').attr('transform', tr).call(gen(scale).tickValues(major).tickFormat(fmt).tickSize(tl).tickPadding(pad).tickSizeOuter(0));
  a.select('.domain').remove();
  a.selectAll('line').attr('stroke', '#444').attr('stroke-width', 1.3);
  a.selectAll('text').attr('font-family', FONT).attr('font-weight', 'bold').attr('font-size', fs).attr('fill', '#111');
  return a;
}
function path(g, data, x, y, color, w, curve) {
  g.append('path').datum(data).attr('fill', 'none').attr('stroke', color).attr('stroke-width', w)
    .attr('stroke-linejoin', 'round').attr('stroke-linecap', 'round')
    .attr('d', d3.line().x(d => x(d[0])).y(d => y(d[1])).curve(curve || d3.curveMonotoneX));
}
const fmt1 = d3.format('.1f');

// ---------- (a) ----------
{
  const P = {x0:167.7, x1:535.7, y0:15, y1:295.7};
  const g = svg.append('g');
  const x = d3.scaleLinear().domain([88.9, 450.5]).range([P.x0, P.x1]);
  const y = d3.scaleLinear().domain([65, 105.1]).range([P.y1, P.y0]);
  drawAxis(g, x, 'bottom', P.y1, [100,200,300,400], [150,250,350], d3.format('d'), 16, 7);
  drawAxis(g, y, 'left', P.x0, [80,100], [70,90], d3.format('d'), 16, 6);
  path(g, tgaVacuum, x, y, '#ff0000', 2);
  path(g, tgaAir, x, y, '#000000', 2);
  frame(g, P);
  label(g, x(443), y(81.9), 'vacuum dried', 13, {anchor:'end', fill:'#ff0000'});
  label(g, x(430), y(74.3), 'air-dried', 13, {anchor:'end'});
  label(g, 351.7, 341.7, 'Temperature (°C)', 18);
  vlabel(g, 108, 162.7, 'Weight (%)', 19);
  letter('a', 94, 38);
}

// ---------- (b) ----------
{
  const P = {x0:694.3, x1:1062.3, y0:15.7, y1:297.3};
  const g = svg.append('g');
  const x = d3.scaleLinear().domain([1000, 4000]).range([P.x0, P.x1]);
  const y = d3.scaleLinear().domain([0, 100]).range([P.y1, P.y0]);
  drawAxis(g, x, 'bottom', P.y1, [1000,2000,3000,4000], [1500,2500,3500], d3.format('d'), 16, 7);
  path(g, irVacuum, x, y, '#ff0000', 2);
  path(g, irAir, x, y, '#000000', 2);
  frame(g, P);
  const leaders = [[[2057,49.0],[2133,51.7]],[[2057,15.4],[2025,13.2]],[[2079,15.4],[2133,13.2]],[[3527,44.0],[3465,39.3]],[[3600,43.4],[3669,39.3]]];
  leaders.forEach(l => g.append('line').attr('x1', x(l[0][0])).attr('y1', y(l[0][1])).attr('x2', x(l[1][0])).attr('y2', y(l[1][1])).attr('stroke', '#999').attr('stroke-width', 1));
  label(g, x(1046), y(86.9), 'vacuum dried', 13, {anchor:'start', fill:'#ff0000'});
  label(g, x(1038), y(50.9), 'air-dried', 13, {anchor:'start'});
  label(g, x(2249), y(54.1), '2050', 13);
  label(g, x(1623), y(28.1), '1619', 13);
  label(g, x(1601), y(18.6), 'υ_{OH}', 18, {weight:'normal'});
  label(g, x(1902), y(10.9), '2066', 13);
  label(g, x(2215), y(10.9), '2075', 13);
  label(g, x(2106), y(4.1), 'υ_{CN}', 18, {weight:'normal'});
  label(g, x(3389), y(35.7), '3532', 13);
  label(g, x(3729), y(36.1), '3604', 13);
  label(g, x(3370), y(27.2), 'υ_{OH}', 18, {weight:'normal'});
  label(g, x(3723), y(27.4), "υ^{'}_{OH}", 18, {weight:'normal'});
  label(g, 886.7, 345, 'Wavenumber (cm^{-1})', 18);
  vlabel(g, 658.3, 163.3, 'Transmission', 18);
  letter('b', 626, 38);
}

// ---------- voltage-capacity panels (c,d left) ----------
function vcPanel(P, ydom, ymajor, yminor, charge, discharge, states, labelPos, colors, yPad, xPad, titleX, titleY) {
  const g = svg.append('g');
  const x = d3.scaleLinear().domain([2.8, 4.0]).range([P.x0, P.x1]);
  const y = d3.scaleLinear().domain(ydom).range([P.y1, P.y0]);
  drawAxis(g, x, 'bottom', P.y1, [2.8,3.0,3.2,3.4,3.6,3.8,4.0], [2.9,3.1,3.3,3.5,3.7,3.9], fmt1, 12, xPad, 4);
  drawAxis(g, y, 'left', P.x0, ymajor, yminor, d3.format('d'), 12, yPad, 4);
  states.forEach(s => g.append('line').attr('x1', P.x0).attr('x2', x(s[0])).attr('y1', y(s[1])).attr('y2', y(s[1]))
    .attr('stroke', '#999').attr('stroke-width', 1.4).attr('stroke-dasharray', '2,2'));
  path(g, charge, x, y, '#ff1a1a', 1.8, d3.curveCatmullRom.alpha(0.5));
  path(g, discharge, x, y, '#ff1a1a', 1.8, d3.curveCatmullRom.alpha(0.5));
  frame(g, P);
  labelPos.forEach((p, i) => label(g, x(p[0]), y(p[1]), stateNames[i], 13, {fill: colors[i]}));
  label(g, titleX[0], titleX[1], 'Voltage (V, vs. Na^{+}/Na)', 13);
  vlabel(g, titleY[0], titleY[1], 'Capacity (mAh g^{-1})', 13);
}
vcPanel({x0:159, x1:351, y0:375.7, y1:665}, [0, 295.2], [0,50,100,150,200,250], [25,75,125,175,225,275],
  cCharge, cDischarge, cStates,
  [[3.004,11.9],[3.52,40.8],[3.68,72],[3.83,117.6],[3.96,165],[3.57,185],[3.40,219],[3.22,253],[2.85,275.5]],
  cColors, 4, 7.4, [255, 701.7], [121.7, 526.7]);
vcPanel({x0:158.3, x1:355.7, y0:738.3, y1:1021.7}, [0, 309.8], [0,50,100,150,200,250,300], [25,75,125,175,225,275],
  dCharge, dDischarge, dStates,
  [[2.847,10.9],[3.54,23.7],[3.585,49.9],[3.585,72.9],[3.58,98.4],[3.976,154.5],[3.513,205.9],[3.48,256.9],[2.851,296.3]],
  dColors, 1.5, 4, [256.7, 1057.3], [116.7, 893.3]);
letter('c', 96, 380);
letter('d', 94, 753);

// ---------- XRD panels ----------
function xrdPanel(P, xd, major, minor, traces, offsets, colors, pad, labX, labY, opts = {}) {
  const g = svg.append('g');
  const x = d3.scaleLinear().domain(xd).range([P.x0, P.x1]);
  const y = d3.scaleLinear().domain([0, P.y1 - P.y0]).range([P.y1, P.y0]);
  drawAxis(g, x, 'bottom', P.y1, major, minor, d3.format('d'), 17, pad);
  traces.forEach((tr, i) => path(g, tr.map(d => [d[0], d[1] + offsets[i]]), x, y, colors[i], 2.2));
  frame(g, P);
  labY.forEach((ly, i) => label(g, labX, ly, stateNames[i], 16, {fill: colors[i]}));
  if (opts.title) {
    label(g, opts.title[0], opts.title[1], '2θ (deg)', 19);
    vlabel(g, opts.intensity[0], opts.intensity[1], 'Intensity', 18);
  }
  return {g, x, y};
}
{
  const c = xrdPanel({x0:437, x1:877, y0:375, y1:666.7}, [10, 60], [10,20,30,40,50,60], [15,25,35,45,55],
    xrdC, xrdCOffsets, cColors, 7.2, 451.5, [641.7,606.7,578.3,552.7,525,498.3,470,447.3,417.3],
    {title:[656, 708.3], intensity:[382.5, 525]});
  xrdCStars.forEach(s => c.g.append('circle').attr('cx', c.x(s[0])).attr('cy', c.y(s[1])).attr('r', 2.2).attr('fill', '#111'));
  xrdPanel({x0:908.3, x1:1066.7, y0:375.7, y1:670}, [15.5, 19.5], [16,18], [17,19],
    xrdCZ, xrdCZOffsets, cColors, 7.2, 1055, [637.3,606.7,579.3,552.7,525,497.7,470,446,415]);
  xrdPanel({x0:432.3, x1:870, y0:734, y1:1023.3}, [10, 60], [10,20,30,40,50,60], [15,25,35,45,55],
    xrdD, xrdDOffsets, dColors, 6.6, 448.3, [1000.7,965,940,913.3,893.3,864,830,803.3,773.3],
    {title:[658.3, 1061.7], intensity:[393.3, 883.3]});
  const dz = xrdPanel({x0:899.3, x1:1064, y0:734, y1:1024}, [15, 20], [15,16,17,18,19,20], [15.5,16.5,17.5,18.5,19.5],
    xrdDZ, xrdDZOffsets, dColors, 6.6, 912.7, [996,960.7,931.7,910,890,866.7,831,808.3,778.3]);
  dGuides.forEach(l => dz.g.append('line').attr('x1', dz.x(l[0][0])).attr('y1', dz.y(l[0][1])).attr('x2', dz.x(l[1][0])).attr('y2', dz.y(l[1][1]))
    .attr('stroke', '#555').attr('stroke-width', 1.5).attr('stroke-dasharray', '2.5,2.5'));
}

// ---------- (e) ----------
{
  const P = {x0:183.3, x1:557.3, y0:1111.7, y1:1396};
  const g = svg.append('g');
  const x = d3.scaleLinear().domain([0, 180]).range([P.x0, P.x1]);
  const y = d3.scaleLinear().domain([1.8, 4.2]).range([P.y1, P.y0]);
  drawAxis(g, x, 'bottom', P.y1, d3.range(0, 181, 20), d3.range(10, 180, 20), d3.format('d'), 17, 5.6);
  drawAxis(g, y, 'left', P.x0, [2.0,2.4,2.8,3.2,3.6,4.0], [2.2,2.6,3.0,3.4,3.8], fmt1, 17, 1.6);
  for (let i = eRates.length - 1; i >= 0; i--) {
    path(g, eCharge[i], x, y, eColors[i], 2.2);
    path(g, eDischarge[i], x, y, eColors[i], 2.2);
  }
  frame(g, P);
  const legY = [1296.7,1308.3,1320,1331.3,1342.7,1354.3,1365.7,1377.3];
  eRates.forEach((r, i) => {
    g.append('line').attr('x1', 506.7).attr('x2', 526.7).attr('y1', legY[i]).attr('y2', legY[i]).attr('stroke', eColors[i]).attr('stroke-width', 2.5);
    label(g, 528.3, legY[i], r, 9.5, {anchor:'start'});
  });
  label(g, 376.7, 1446, 'Capacity (mAh g^{-1})', 18);
  vlabel(g, 122.7, 1256.7, 'Voltage (V, vs. Na^{+}/Na)', 18);
  letter('e', 101, 1120);

  // inset
  const Q = {x0:221.7, x1:346.7, y0:1283.3, y1:1377};
  const ix = d3.scaleLog().domain([0.0632, 37.1]).range([Q.x0, Q.x1]);
  const iy = d3.scaleLinear().domain([79.7, 171.5]).range([Q.y1, Q.y0]);
  frame(g, Q, '#b0b0b0', 1.2, '#fff');
  drawAxis(g, ix, 'bottom', Q.y1, [0.1,1,10], [0.2,0.5,2,5,20], d => d3.format('~g')(d), 6.5, 1.5, 2.5);
  drawAxis(g, iy, 'left', Q.x0, [80,100,120,140,160], [], d3.format('d'), 6.5, 1.5, 2.5);
  const lc = d3.line().x((d, i) => ix(insetRates[i])).y(d => iy(d));
  g.append('path').datum(insetCharge).attr('fill','none').attr('stroke','#aaa').attr('stroke-width',1).attr('d', lc);
  g.append('path').datum(insetDischarge).attr('fill','none').attr('stroke','#bbb').attr('stroke-width',1).attr('d', lc);
  insetCharge.forEach((v, i) => g.append('rect').attr('x', ix(insetRates[i]) - 1.5).attr('y', iy(v) - 1.5).attr('width', 3).attr('height', 3).attr('fill', '#222'));
  insetDischarge.forEach((v, i) => g.append('path').attr('transform', `translate(${ix(insetRates[i])},${iy(v)})`).attr('d', d3.symbol(d3.symbolTriangle, 9)()).attr('fill', '#ff2020'));
  g.append('line').attr('x1', 242.7).attr('x2', 253.3).attr('y1', 1340).attr('y2', 1340).attr('stroke', '#bbb');
  g.append('path').attr('transform', 'translate(248,1340)').attr('d', d3.symbol(d3.symbolTriangle, 9)()).attr('fill', '#ff2020');
  label(g, 255, 1340, 'Discharge', 5.5, {anchor:'start', weight:'normal'});
  g.append('line').attr('x1', 242.7).attr('x2', 253.3).attr('y1', 1347.3).attr('y2', 1347.3).attr('stroke', '#aaa');
  g.append('rect').attr('x', 246.5).attr('y', 1345.8).attr('width', 3).attr('height', 3).attr('fill', '#222');
  label(g, 255, 1347.3, 'Charge', 5.5, {anchor:'start', weight:'normal'});
  label(g, 274, 1316, '1 C', 7);
  label(g, 309.3, 1306, '5 C', 7);
  label(g, 326, 1320, '10 C', 7);
  label(g, 334, 1342.3, '20 C', 7);
  label(g, 293.3, 1390, 'C rate', 6.5, {weight:'normal'});
  vlabel(g, 198, 1330, 'Capacity (mAh g^{-1})', 5.5);
}

// ---------- (f) ----------
{
  const P = {x0:697, x1:1054, y0:1126, y1:1401.7};
  const g = svg.append('g');
  const x = d3.scaleLinear().domain([0, 500]).range([P.x0, P.x1]);
  const yL = d3.scaleLinear().domain([0, 160]).range([P.y1, P.y0]);
  const yR = d3.scaleLinear().domain([0, 106.04]).range([P.y1, P.y0]);
  drawAxis(g, x, 'bottom', P.y1, [0,100,200,300,400,500], [50,150,250,350,450], d3.format('d'), 16, 5.8);
  drawAxis(g, yL, 'left', P.x0, d3.range(0, 161, 20), d3.range(10, 160, 20), d3.format('d'), 16, 1.7);
  drawAxis(g, yR, 'right', P.x1, [0,20,40,60,80,100], [10,30,50,70,90], d3.format('d'), 16, 1.5);
  const n = Math.min(fCycles.length, fDischarge.length, fCharge.length, fCE.length);
  const idx = d3.range(n);
  const lineC = d3.line().x(i => x(fCycles[i])).y(i => yL(fCharge[i]));
  const lineD = d3.line().x(i => x(fCycles[i])).y(i => yL(fDischarge[i]));
  const lineE = d3.line().x(i => x(fCycles[i])).y(i => yR(fCE[i]));
  g.append('path').datum(idx).attr('fill','none').attr('stroke','#444').attr('stroke-width',1).attr('d', lineC);
  idx.forEach(i => g.append('rect').attr('x', x(fCycles[i]) - 3).attr('y', yL(fCharge[i]) - 3).attr('width', 6).attr('height', 6).attr('fill', '#111'));
  g.append('path').datum(idx).attr('fill','none').attr('stroke','#ff6060').attr('stroke-width',1).attr('d', lineD);
  idx.forEach(i => g.append('circle').attr('cx', x(fCycles[i])).attr('cy', yL(fDischarge[i])).attr('r', 4).attr('fill', '#ff0000'));
  g.append('path').datum(idx).attr('fill','none').attr('stroke','#88ee99').attr('stroke-width',1).attr('d', lineE);
  const tri = d3.symbol(d3.symbolTriangle, 30)();
  idx.forEach(i => g.append('path').attr('transform', `translate(${x(fCycles[i])},${yR(fCE[i])})`).attr('d', tri)
    .attr('fill', 'none').attr('stroke', '#3ee860').attr('stroke-width', 1));
  frame(g, P);
  // legend
  const rows = [1301, 1317.7, 1335.7];
  const lx0 = 722, lx1 = 750, mx = 736, tx = 755;
  g.append('line').attr('x1', lx0).attr('x2', lx1).attr('y1', rows[0]).attr('y2', rows[0]).attr('stroke', '#aaa').attr('stroke-width', 1);
  g.append('rect').attr('x', mx - 3).attr('y', rows[0] - 3).attr('width', 6).attr('height', 6).attr('fill', '#111');
  g.append('line').attr('x1', lx0).attr('x2', lx1).attr('y1', rows[1]).attr('y2', rows[1]).attr('stroke', '#ff9090').attr('stroke-width', 1);
  g.append('circle').attr('cx', mx).attr('cy', rows[1]).attr('r', 4).attr('fill', '#ff0000');
  g.append('line').attr('x1', lx0).attr('x2', lx1).attr('y1', rows[2]).attr('y2', rows[2]).attr('stroke', '#88ee99').attr('stroke-width', 1);
  g.append('path').attr('transform', `translate(${mx},${rows[2]})`).attr('d', d3.symbol(d3.symbolTriangle, 30)()).attr('fill', '#fff').attr('stroke', '#3ee860').attr('stroke-width', 1);
  label(g, tx, rows[0], 'Charge capacity', 12.5, {anchor:'start'});
  label(g, tx, rows[1], 'Discharge capacity', 12.5, {anchor:'start'});
  label(g, tx, rows[2], 'Coulombic efficiency', 12.5, {anchor:'start'});
  label(g, lx0, 1365, 'Charge and discharge current: 100 mA g^{-1}', 12.2, {anchor:'start'});
  label(g, 896, 1441.7, 'Cycle number', 17);
  vlabel(g, 651, 1266.7, 'Specific Capacity (mAh g^{-1})', 18);
  vlabel(g, 1099, 1266.7, 'Coulombic efficiency (%)', 18);
  letter('f', 623, 1123);
}

// ---------- caption ----------
{
  const fs = 22.8, X0 = 15.5, X1 = 1184;
  const base = [1501, 1527.5, 1554, 1580.5, 1607];
  captionLines.forEach((line, li) => {
    const words = line.split(' ');
    const nodes = words.map(w => {
      const t = svg.append('text').attr('y', base[li]).attr('font-family', "'Liberation Serif','Times New Roman',serif")
        .attr('font-weight', 'bold').attr('font-size', fs).attr('fill', '#111');
      return rich(t, w, fs);
    });
    const widths = nodes.map(t => t.node().getComputedTextLength());
    const total = d3.sum(widths);
    const justify = li < captionLines.length - 1;
    const gap = justify ? Math.max(3, (X1 - X0 - total) / (words.length - 1)) : fs * 0.25;
    let xx = X0;
    nodes.forEach((t, i) => { t.attr('x', xx); xx += widths[i] + gap; });
  });
}
</script>
</body></html>
